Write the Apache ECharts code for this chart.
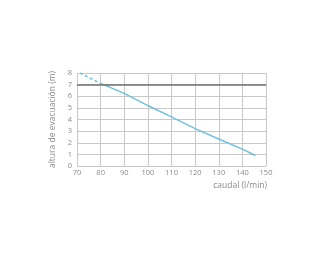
<!DOCTYPE html>
<html><head><meta charset="utf-8">
<script src="https://cdn.jsdelivr.net/npm/echarts@6/dist/echarts.min.js"></script>
<style>html,body{margin:0;padding:0;background:#fff}#c{width:325px;height:260px}</style>
</head><body><div id="c"></div>
<script>
const xTicks = [70, 80, 90, 100, 110, 120, 130, 140, 150];
const yTicks = [0, 1, 2, 3, 4, 5, 6, 7, 8];
const dashedX = [71.3, 79.5];
const dashedY = [8.0, 7.15];
const solidX = [79.5, 90, 100, 110, 120, 130, 140, 145.5];
const solidY = [7.15, 6.25, 5.2, 4.22, 3.22, 2.32, 1.45, 0.9];
const limitY = 7;
const xName = 'caudal (l/min)';
const yName = 'altura de evacuación (m)';

const chart = echarts.init(document.getElementById('c'));
const txt = '#8a8a8a';
chart.setOption({
  animation: false,
  grid: {left: 77, right: 59, top: 73, bottom: 94},
  xAxis: {
    type: 'value', min: xTicks[0], max: xTicks[xTicks.length-1], interval: 10,
    name: xName, nameLocation: 'end', nameGap: 0,
    nameTextStyle: {color: txt, fontFamily: 'Open Sans', fontSize: 8.5, align: 'right', verticalAlign: 'top', padding: [15, -1, 0, 0]},
    axisLine: {show: false}, axisTick: {show: false},
    axisLabel: {color: txt, fontFamily: 'Open Sans', fontSize: 7.5, margin: 3},
    splitLine: {show: true, lineStyle: {color: '#c8c8c8', width: 1}}
  },
  yAxis: {
    type: 'value', min: yTicks[0], max: yTicks[yTicks.length-1], interval: 1,
    name: yName, nameLocation: 'middle', nameGap: 11, nameRotate: 90,
    nameTextStyle: {color: txt, fontFamily: 'Open Sans', fontSize: 8.5},
    axisLine: {show: false}, axisTick: {show: false},
    axisLabel: {color: txt, fontFamily: 'Open Sans', fontSize: 7.5, margin: 5},
    splitLine: {show: true, lineStyle: {color: '#c8c8c8', width: 1}}
  },
  series: [
    {
      type: 'line', symbol: 'none', silent: true,
      data: dashedX.map((x, i) => [x, dashedY[i]]),
      lineStyle: {color: '#6ec0dc', width: 1.5, type: [3, 2.5]}
    },
    {
      type: 'line', symbol: 'none', silent: true,
      data: solidX.map((x, i) => [x, solidY[i]]),
      lineStyle: {color: '#6ec0dc', width: 1.5},
      markLine: {
        silent: true, symbol: 'none', label: {show: false},
        lineStyle: {color: '#707070', width: 1.5, type: 'solid'},
        data: [{yAxis: limitY}]
      }
    }
  ]
});
</script></body></html>
